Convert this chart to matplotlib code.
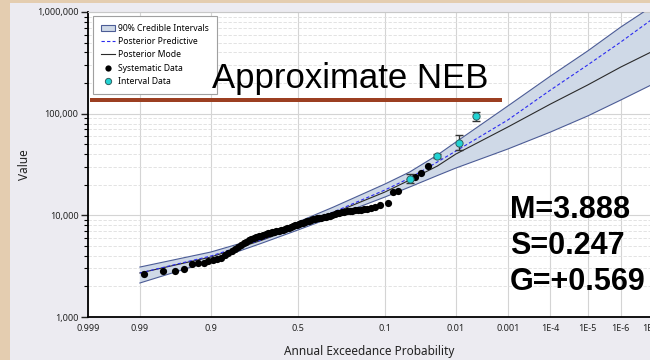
import matplotlib.pyplot as plt
import numpy as np
from statistics import NormalDist
from matplotlib.patches import Rectangle, Patch
from matplotlib.lines import Line2D
from matplotlib.ticker import FixedLocator, LogLocator, NullFormatter, FuncFormatter

# frequency curve (annual exceedance probability vs value)
curve_aep = [0.99, 0.9, 0.7, 0.5, 0.3, 0.1, 0.05, 0.02, 0.01,
             1e-3, 1e-4, 1e-5, 1e-6, 1e-7]
mode_q = [2710, 3890, 5715, 7670, 10530, 16950, 22240, 30530, 40070,
          73820, 124300, 191100, 287200, 403400]
pred_q = [2710, 3980, 5781, 7850, 10780, 17740, 23260, 33430, 42890,
          86520, 170700, 300600, 505800, 832500]
upper_q = [3100, 4356, 6118, 8592, 12070, 20310, 26660, 39170, 52570,
           118800, 234300, 412600, 710300, 1117000]
lower_q = [2160, 3553, 5341, 7170, 9687, 15130, 18980, 24620, 29180,
           44870, 65930, 94710, 136100, 191100]

# systematic record, plotting positions
sys_aep = [
    0.9882, 0.9765, 0.9647, 0.9529, 0.9412, 0.9294, 0.9176, 0.9059, 0.8941, 0.8824,
    0.8706, 0.8588, 0.8471, 0.8353, 0.8235, 0.8118, 0.8000, 0.7882, 0.7765, 0.7647,
    0.7529, 0.7412, 0.7294, 0.7176, 0.7059, 0.6941, 0.6824, 0.6706, 0.6588, 0.6471,
    0.6353, 0.6235, 0.6118, 0.6000, 0.5882, 0.5765, 0.5647, 0.5529, 0.5412, 0.5294,
    0.5176, 0.5059, 0.4941, 0.4824, 0.4706, 0.4588, 0.4471, 0.4353, 0.4235, 0.4118,
    0.4000, 0.3882, 0.3765, 0.3647, 0.3529, 0.3412, 0.3294, 0.3176, 0.3059, 0.2941,
    0.2824, 0.2706, 0.2588, 0.2471, 0.2353, 0.2235, 0.2118, 0.2000, 0.1882, 0.1765,
    0.1647, 0.1529, 0.1412, 0.1294,
    0.1137, 0.0925, 0.0809, 0.0704, 0.0424, 0.0351, 0.0278,
]
sys_q = [
    2630, 2830, 2850, 2940, 3340, 3370, 3400, 3550, 3640, 3720,
    3830, 4070, 4260, 4460, 4665, 4880, 5105, 5340, 5525, 5715,
    5915, 6050, 6185, 6260, 6330, 6405, 6550, 6700, 6775, 6850,
    6930, 7010, 7090, 7170, 7250, 7335, 7450, 7555, 7675, 7850,
    7995, 8100, 8210, 8360, 8475, 8590, 8730, 8850, 8990, 9135,
    9240, 9345, 9410, 9515, 9620, 9730, 9840, 9955, 10110, 10300,
    10465, 10610, 10775, 10900, 11025, 11070, 11150, 11220, 11280, 11350,
    11455, 11585, 11800, 11990,
    12630, 13210, 16950, 17340, 23810, 26060, 30530,
]

# interval observations with their ranges
int_aep = [0.0496, 0.0203, 0.0089, 0.0044]
int_q = [22700, 38300, 51400, 94600]
int_lo = [20800, 36600, 43600, 85000]
int_hi = [25500, 40000, 61600, 104000]

tick_aep = [0.999, 0.99, 0.9, 0.5, 0.1, 0.01, 0.001, 1e-4, 1e-5, 1e-6, 1e-7]
tick_labels = ['0.999', '0.99', '0.9', '0.5', '0.1', '0.01', '0.001',
               '1E-4', '1E-5', '1E-6', '1E-7']

stats_text = ['M=3.888', 'S=0.247', 'G=+0.569']

nd = NormalDist()


def to_z(aep):
    return np.array([nd.inv_cdf(1 - p) for p in aep])


W, H = 650, 360
plt.rcParams['font.family'] = ['Noto Sans', 'DejaVu Sans']
fig = plt.figure(figsize=(W / 100, H / 100), dpi=100, facecolor='#e4cdb0')
fig.patches.append(Rectangle((10 / W, 0), 1, 357 / H, transform=fig.transFigure,
                             facecolor='#ecebf1', edgecolor='none', zorder=-10))

x_left = to_z([0.999])[0]
x_right = to_z([1e-8])[0]
ax = fig.add_axes([88 / W, 43 / H, (679 - 88) / W, 305 / H])
ax.set_zorder(1)
ax.set_facecolor('white')

cz = to_z(curve_aep)
ax.fill_between(cz, lower_q, upper_q, facecolor='#cfd9e7', edgecolor='none', zorder=2)
ax.plot(cz, upper_q, color='#4c5c96', lw=0.8, zorder=3)
ax.plot(cz, lower_q, color='#4c5c96', lw=0.8, zorder=3)
ax.plot(cz, mode_q, color='#2a2a2a', lw=0.8, zorder=4)
ax.plot(cz, pred_q, color='#2b2bf0', lw=0.8, dashes=(3, 2), zorder=4)

ax.plot(to_z(sys_aep), sys_q, 'o', color='black', ms=5.2, mew=0, zorder=5)

iq = np.array(int_q)
ax.errorbar(to_z(int_aep), iq, yerr=[iq - np.array(int_lo), np.array(int_hi) - iq],
            fmt='none', ecolor='#333333', elinewidth=1, capsize=3, capthick=1, zorder=6)
ax.plot(to_z(int_aep), int_q, 'o', color='#22d3d3', mec='#2f5f60', mew=0.7,
        ms=5.2, zorder=7)

ax.set_yscale('log')
ax.set_ylim(1000, 1000000)
ax.set_xlim(x_left, x_right)

ax.xaxis.set_major_locator(FixedLocator(to_z(tick_aep)))
ax.set_xticklabels(tick_labels)
ax.yaxis.set_major_locator(LogLocator(base=10))
ax.yaxis.set_minor_locator(LogLocator(base=10, subs=np.arange(2, 10)))
ax.yaxis.set_major_formatter(FuncFormatter(lambda v, _: f'{v:,.0f}'))
ax.yaxis.set_minor_formatter(NullFormatter())

ax.tick_params(axis='x', length=0, pad=5, labelsize=6.5, colors='#222222')
ax.tick_params(axis='y', which='major', length=5, width=1, pad=2,
               labelsize=6.5, colors='#222222')
ax.tick_params(axis='y', which='minor', length=3, width=0.8)

ax.grid(True, which='major', axis='both', color='#d4d4d4', lw=0.8, zorder=0)
ax.grid(True, which='minor', axis='y', color='#dedede', lw=0.6,
        linestyle=(0, (4, 2)), zorder=0)
ax.set_axisbelow(True)

for side in ('left', 'bottom'):
    ax.spines[side].set_color('black')
    ax.spines[side].set_linewidth(1.3)
for side in ('top', 'right'):
    ax.spines[side].set_color('#c8c8c8')
    ax.spines[side].set_linewidth(0.8)

fig.text(369 / W, 1 - 351 / H, 'Annual Exceedance Probability', ha='center',
         va='center', fontsize=8.5, color='#222222')
fig.text(25 / W, 1 - 165 / H, 'Value', ha='center', va='center', rotation=90,
         fontsize=8.5, color='#222222')

handles = [
    Patch(facecolor='#cfd9e7', edgecolor='#4c5c96', lw=0.8),
    Line2D([], [], color='#2b2bf0', lw=0.8, dashes=(3, 2)),
    Line2D([], [], color='#2a2a2a', lw=0.8),
    Line2D([], [], marker='o', ls='none', color='black', ms=4.5, mew=0),
    Line2D([], [], marker='o', ls='none', color='#22d3d3', mec='#2f5f60',
           mew=0.7, ms=4.5),
]
labels = ['90% Credible Intervals', 'Posterior Predictive', 'Posterior Mode',
          'Systematic Data', 'Interval Data']
leg = ax.legend(handles, labels, loc='upper left',
                bbox_to_anchor=(93 / W, 1 - 16 / H),
                bbox_transform=fig.transFigure, borderaxespad=0,
                fontsize=6.2, frameon=True, fancybox=False, framealpha=1,
                edgecolor='#a0a0a0', handlelength=1.6, handletextpad=0.4,
                labelspacing=0.5, borderpad=0.9)
leg.get_frame().set_linewidth(0.8)
leg.set_zorder(20)

# slide annotations on top of the chart
fig.patches.append(Rectangle((90 / W, 1 - 101.5 / H), (502 - 90) / W, 4 / H,
                             transform=fig.transFigure, facecolor='#9c3f21',
                             edgecolor='none', zorder=30))
fig.text(212 / W, 1 - 88 / H, 'Approximate NEB', ha='left', va='baseline',
         fontsize=25, family='Liberation Sans', color='black', zorder=31)
for i, s in enumerate(stats_text):
    fig.text(510 / W, 1 - (218 + 36 * i) / H, s, ha='left', va='baseline',
             fontsize=22, fontweight='bold', family='Liberation Sans',
             color='black', zorder=31)

fig.savefig('out.png', dpi=100, facecolor=fig.get_facecolor())
